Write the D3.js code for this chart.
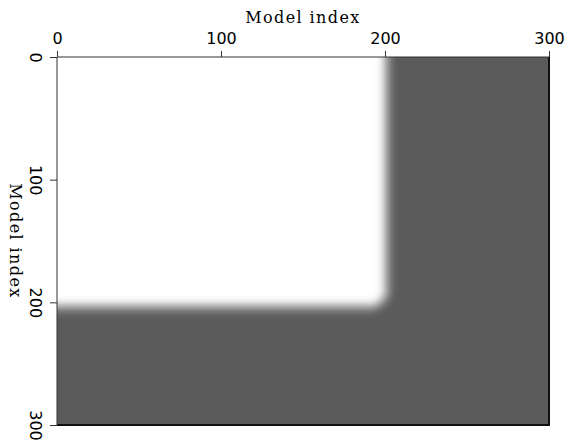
<!DOCTYPE html>
<html>
<head>
<meta charset="utf-8">
<script src="https://cdn.jsdelivr.net/npm/d3@7"></script>
<style>
  html, body { margin: 0; padding: 0; background: #fff; }
  svg { display: block; }
</style>
</head>
<body>
<svg id="chart" width="570" height="441"></svg>
<script>
// Model grid extent and tick labels (both axes are "Model index")
const xDomain = [0, 300];
const yDomain = [0, 300];
const xTicks = [0, 100, 200, 300];
const yTicks = [0, 100, 200, 300];
const axisTitle = "Model index";

// Bright block occupies model indices below these edges
const edgeX = 200.8;
const edgeY = 203.5;
const cornerRadius = 18; // screen pixels

// Edge profile: brightness (1 = white, 0 = background) vs signed distance from the edge, in screen pixels
const profileOffset = [-14, -11, -8, -5, -2, 0, 2, 5, 8, 11, 14];
const profileValue  = [1.0, 0.99, 0.95, 0.84, 0.64, 0.5, 0.36, 0.17, 0.06, 0.015, 0.0];

// Grey levels
const whiteLevel = 255;
const backLevel = 91;

const svg = d3.select("#chart");
const plot = { left: 57, top: 57, right: 549, bottom: 425 };

const x = d3.scaleLinear().domain(xDomain).range([plot.left, plot.right]);
const y = d3.scaleLinear().domain(yDomain).range([plot.top, plot.bottom]);
const prof = d3.scaleLinear().domain(profileOffset).range(profileValue).clamp(true);

// Raster of the model field: smooth edge around a block with a rounded corner
const w = Math.round(plot.right - plot.left);
const h = Math.round(plot.bottom - plot.top);
const ex = x(edgeX) - plot.left, ey = y(edgeY) - plot.top;
const canvas = document.createElement("canvas");
canvas.width = w; canvas.height = h;
const ctx = canvas.getContext("2d");
const img = ctx.createImageData(w, h);
for (let j = 0; j < h; j++) {
  const qy = (j + 0.5) - (ey - cornerRadius);
  for (let i = 0; i < w; i++) {
    const qx = (i + 0.5) - (ex - cornerRadius);
    const d = Math.hypot(Math.max(qx, 0), Math.max(qy, 0)) + Math.min(Math.max(qx, qy), 0) - cornerRadius;
    const v = prof(d);
    const g = Math.round(backLevel + (whiteLevel - backLevel) * v);
    const k = (j * w + i) * 4;
    img.data[k] = g; img.data[k + 1] = g; img.data[k + 2] = g; img.data[k + 3] = 255;
  }
}
ctx.putImageData(img, 0, 0);

svg.append("image")
  .attr("x", plot.left).attr("y", plot.top)
  .attr("width", w).attr("height", h)
  .attr("preserveAspectRatio", "none")
  .attr("href", canvas.toDataURL());

// Frame
svg.append("line").attr("x1", plot.right).attr("x2", plot.right)
  .attr("y1", plot.top).attr("y2", plot.bottom + 1)
  .attr("stroke", "#111").attr("stroke-width", 2);
svg.append("line").attr("x1", plot.left).attr("x2", plot.right + 1)
  .attr("y1", plot.bottom).attr("y2", plot.bottom)
  .attr("stroke", "#111").attr("stroke-width", 2);

// Top axis
const topAxis = d3.axisTop(x).tickValues(xTicks).tickSize(6).tickPadding(7).tickFormat(d3.format("d"));
const gTop = svg.append("g").attr("transform", `translate(0,${plot.top})`).call(topAxis);
gTop.select(".domain").attr("stroke", "#333").attr("d", `M${plot.left},0H${plot.right}`);
gTop.selectAll(".tick line").attr("stroke", "#333");
gTop.selectAll("text")
  .attr("font-family", "DejaVu Sans").attr("font-size", 16).attr("fill", "#000");

// Left axis, labels rotated to read downwards
const leftAxis = d3.axisLeft(y).tickValues(yTicks).tickSize(7).tickFormat(d3.format("d"));
const gLeft = svg.append("g").attr("transform", `translate(${plot.left},0)`).call(leftAxis);
gLeft.select(".domain").attr("stroke", "#333").attr("d", `M0,${plot.top}V${plot.bottom}`);
gLeft.selectAll(".tick line").attr("stroke", "#333");
gLeft.selectAll(".tick text")
  .attr("x", null).attr("dy", null)
  .attr("text-anchor", "middle")
  .attr("transform", "translate(-27,0) rotate(90)")
  .attr("font-family", "DejaVu Sans").attr("font-size", 16).attr("fill", "#000");

// Axis titles
svg.append("text")
  .attr("x", (plot.left + plot.right) / 2).attr("y", 23)
  .attr("text-anchor", "middle")
  .attr("font-family", "DejaVu Serif").attr("font-size", 16).attr("letter-spacing", 1.4)
  .text(axisTitle);
svg.append("text")
  .attr("transform", `translate(10,${(plot.top + plot.bottom) / 2}) rotate(90)`)
  .attr("text-anchor", "middle")
  .attr("font-family", "DejaVu Serif").attr("font-size", 16).attr("letter-spacing", 1.4)
  .text(axisTitle);
</script>
</body>
</html>
